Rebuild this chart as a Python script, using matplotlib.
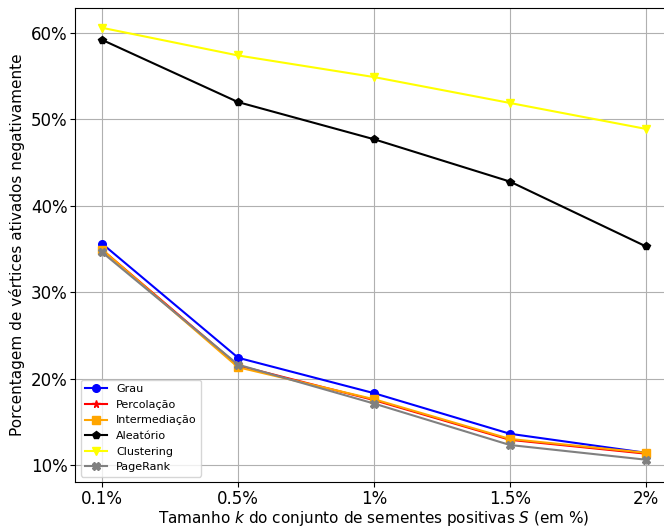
import numpy as np
import matplotlib
matplotlib.use("Agg")
import matplotlib.pyplot as plt
from matplotlib.ticker import PercentFormatter

# Tamanhos do conjunto de sementes
seed_sizes = ["0.1%", "0.5%", "1%", "1.5%", "2%"]

# Porcentagem de vértices ativados negativamente por estratégia
grau = [35.6, 22.4, 18.3, 13.6, 11.4]
percolacao = [34.9, 21.5, 17.5, 12.9, 11.3]
intermediacao = [34.9, 21.3, 17.6, 13.0, 11.4]
aleatorio = [59.2, 52.0, 47.7, 42.8, 35.3]
clustering = [60.6, 57.4, 54.9, 51.9, 48.9]
pagerank = [34.6, 21.6, 17.1, 12.3, 10.6]

series = [
    ("Grau", grau, "blue", "o"),
    ("Percolação", percolacao, "red", "*"),
    ("Intermediação", intermediacao, "orange", "s"),
    ("Aleatório", aleatorio, "black", "p"),
    ("Clustering", clustering, "yellow", "v"),
    ("PageRank", pagerank, "gray", "X"),
]

fig, ax = plt.subplots(figsize=(6.64, 5.31), dpi=100)
fig.subplots_adjust(left=0.113, right=1.0136, top=0.985, bottom=0.092)

x = np.arange(len(seed_sizes))
for label, values, color, marker in series:
    ax.plot(x, values, color=color, marker=marker, markersize=5.5,
            linewidth=1.5, label=label)

ax.set_xticks(x)
ax.set_xticklabels(seed_sizes)
ax.set_xlim(-0.2, 4.2)
ax.yaxis.set_major_formatter(PercentFormatter(decimals=0))
ax.set_yticks([10, 20, 30, 40, 50, 60])
ax.set_ylim(8.0, 62.9)
ax.tick_params(labelsize=12, pad=2)
ax.grid(True, color="#b0b0b0", linewidth=0.8)

ax.set_xlabel("Tamanho $k$ do conjunto de sementes positivas $S$ (em %)",
              fontsize=11, labelpad=1)
ax.set_ylabel("Porcentagem de vértices ativados negativamente", fontsize=11)

ax.legend(loc="lower left", fontsize=8)

plt.savefig("out.png", dpi=100)
